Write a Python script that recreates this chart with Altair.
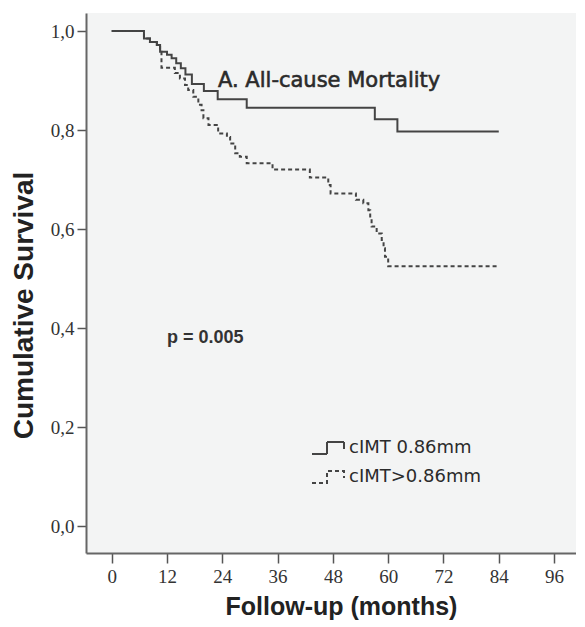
import altair as alt
import pandas as pd

# Kaplan-Meier step points (time in months, cumulative survival)
solid_t = [0, 7, 8.3, 9.8, 10.5, 12, 13, 14, 15, 16, 17.4, 20, 23, 29.3, 57.1, 62, 84]
solid_s = [1.0, .985, .978, .972, .958, .952, .945, .935, .925, .912, .893, .879, .862, .845, .822, .797, .797]

dot_t = [0, 7, 8.3, 9.8, 10.5, 10.8, 13.7, 14.8, 15.9, 16.6, 17.7, 18.8, 19.5, 19.9, 21, 22.8, 23.1, 25,
         25.7, 26.8, 27.8, 29.3, 34.9, 43, 47, 47.5, 53, 54.6, 55.7, 56.1, 56.4, 57.5, 58.6, 59, 59.3, 60, 84]
dot_s = [1.0, .985, .978, .972, .958, .926, .915, .904, .891, .881, .867, .851, .840, .824, .810, .803, .793, .786,
         .773, .753, .746, .733, .720, .704, .689, .672, .659, .652, .638, .622, .605, .591, .578, .561, .544, .525, .525]

groups = ["cIMT 0.86mm", "cIMT>0.86mm"]
x_ticks = [0, 12, 24, 36, 48, 60, 72, 84, 96]
y_ticks = [0.0, 0.2, 0.4, 0.6, 0.8, 1.0]
title_text = "A. All-cause Mortality"
p_text = "p = 0.005"

df = pd.concat([
    pd.DataFrame({"t": solid_t, "s": solid_s, "g": groups[0], "o": 1}),
    pd.DataFrame({"t": dot_t, "s": dot_s, "g": groups[1], "o": 0}),
])

sym_path = "M-1.6,0.6H-0.1V-0.6H1.6V0.1"

lines = alt.Chart(df).mark_line(interpolate="step-after", strokeWidth=2, clip=True, color="#444").encode(
    x=alt.X("t:Q",
            scale=alt.Scale(domain=[-5.58, 100.76], nice=False, zero=False),
            axis=alt.Axis(values=x_ticks, title="Follow-up (months)", grid=False,
                          tickSize=10, labelPadding=4,
                          titleX=255, titleY=61, titleAlign="center", titleBaseline="alphabetic")),
    y=alt.Y("s:Q",
            scale=alt.Scale(domain=[-0.0545, 1.0364], nice=False, zero=False),
            axis=alt.Axis(values=y_ticks, title="Cumulative Survival", grid=False,
                          tickSize=9, labelPadding=3, titleFontSize=28,
                          labelExpr="replace(format(datum.value, '.1f'), '.', ',')",
                          titleX=-62, titleY=292, titleAngle=-90, titleAlign="center",
                          titleBaseline="middle")),
    strokeDash=alt.StrokeDash("g:N", scale=alt.Scale(domain=groups, range=[[1, 0], [4, 3]]),
                              legend=alt.Legend(title=None, orient="none", legendX=231, legendY=424,
                                                symbolType=sym_path, symbolSize=400,
                                                symbolStrokeWidth=2, symbolStrokeColor="#444",
                                                symbolFillColor="transparent",
                                                labelFont="DejaVu Sans", labelFontSize=18,
                                                labelColor="#2b2b2b", labelOffset=10,
                                                rowPadding=8, padding=0)),
    order=alt.Order("o:Q"),
)

title = alt.Chart(pd.DataFrame({"txt": [title_text]})).mark_text(
    align="left", baseline="middle", font="DejaVu Sans", fontSize=21, color="#2b2b2b",
    stroke="#2b2b2b", strokeWidth=0.6
).encode(x=alt.value(132), y=alt.value(68), text="txt:N")

ptxt = alt.Chart(pd.DataFrame({"txt": [p_text]})).mark_text(
    align="left", baseline="middle", font="Liberation Sans", fontSize=18, fontWeight="bold", color="#333"
).encode(x=alt.value(81), y=alt.value(325), text="txt:N")

chart = alt.layer(lines, title, ptxt).properties(
    width=490, height=540,
    autosize=alt.AutoSizeParams(type="none"),
    padding={"left": 78, "top": 5, "right": 0, "bottom": 71},
).configure_view(fill="#f3f4f4", stroke=None).configure_axis(
    domainColor="#666", domainWidth=2, tickColor="#555", tickWidth=1.5,
    labelFont="Liberation Serif", labelFontSize=19, labelColor="#333",
    titleFont="Liberation Sans", titleFontSize=25, titleFontWeight="bold", titleColor="#222",
)

chart.save("out.html", embed_options={"renderer": "svg", "actions": False})
